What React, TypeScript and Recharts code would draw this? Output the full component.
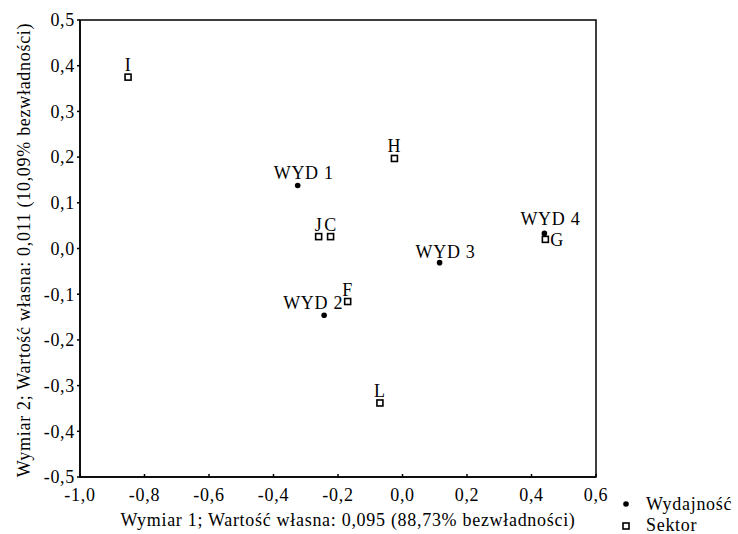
import React from 'react';
import { ScatterChart, Scatter, XAxis, YAxis, ReferenceArea, Legend } from 'recharts';

const wydNames = ['WYD 1', 'WYD 2', 'WYD 3', 'WYD 4'];
const wydDim1 = [-0.325, -0.243, 0.115, 0.44];
const wydDim2 = [0.138, -0.146, -0.031, 0.033];

const sektorNames = ['C', 'F', 'G', 'H', 'I', 'J', 'L'];
const sektorDim1 = [-0.223, -0.17, 0.443, -0.025, -0.851, -0.26, -0.07];
const sektorDim2 = [0.026, -0.116, 0.02, 0.197, 0.375, 0.026, -0.338];

const xTicks = [-1.0, -0.8, -0.6, -0.4, -0.2, 0.0, 0.2, 0.4, 0.6];
const yTicks = [-0.5, -0.4, -0.3, -0.2, -0.1, 0.0, 0.1, 0.2, 0.3, 0.4, 0.5];

const xTitle = 'Wymiar 1; Wartość własna: 0,095 (88,73% bezwładności)';
const yTitle = 'Wymiar 2; Wartość własna: 0,011 (10,09% bezwładności)';
const seriesNames = ['Wydajność', 'Sektor'];

const wydData = wydNames.map((name, i) => ({ name, x: wydDim1[i], y: wydDim2[i] }));
const sektorData = sektorNames.map((name, i) => ({ name, x: sektorDim1[i], y: sektorDim2[i] }));

const FONT = 'Liberation Serif, Times New Roman, serif';
const FS = 18;
const LS = 0.7;

// label placement (style only)
const labelPlacement: Record<string, { dx: number; dy: number; anchor: 'start' | 'middle' | 'end' }> = {
  'WYD 1': { dx: 6, dy: -6, anchor: 'middle' },
  'WYD 2': { dx: -11, dy: -6, anchor: 'middle' },
  'WYD 3': { dx: 6, dy: -5, anchor: 'middle' },
  'WYD 4': { dx: 6, dy: -8, anchor: 'middle' },
  G: { dx: 5, dy: 7, anchor: 'start' },
};
const defaultPlacement = { dx: 0, dy: -6, anchor: 'middle' as const };

const fmt = (v: number) => (Math.abs(v) < 1e-9 ? 0 : v).toFixed(1).replace('.', ',');

const Label = ({ cx, cy, name }: { cx: number; cy: number; name: string }) => {
  const p = labelPlacement[name] || defaultPlacement;
  return (
    <text
      x={cx + p.dx}
      y={cy + p.dy}
      textAnchor={p.anchor}
      fontFamily={FONT}
      fontSize={FS}
      letterSpacing={LS}
      fill="#000"
    >
      {name}
    </text>
  );
};

const DotShape = (props: any) => {
  const { cx, cy, payload } = props;
  return (
    <g>
      <circle cx={cx} cy={cy} r={2.8} fill="#000" />
      <Label cx={cx} cy={cy} name={payload.name} />
    </g>
  );
};

const SquareShape = (props: any) => {
  const { cx, cy, payload } = props;
  return (
    <g>
      <rect x={cx - 3} y={cy - 3} width={6} height={6} fill="#fff" stroke="#000" strokeWidth={1.6} />
      <Label cx={cx} cy={cy} name={payload.name} />
    </g>
  );
};

const LegendContent = () => (
  <div style={{ fontFamily: FONT, fontSize: FS, letterSpacing: LS, color: '#000' }}>
    {seriesNames.map((n, i) => (
      <div key={n} style={{ display: 'flex', alignItems: 'center', height: 21, lineHeight: '21px' }}>
        <svg width={16} height={21} style={{ display: 'block' }}>
          {i === 0 ? (
            <circle cx={8} cy={10} r={2.8} fill="#000" />
          ) : (
            <rect x={5} y={8} width={6} height={6} fill="#fff" stroke="#000" strokeWidth={1.6} />
          )}
        </svg>
        <span style={{ marginLeft: 12 }}>{n}</span>
      </div>
    ))}
  </div>
);

const XTitle = () => (
  <text x={348} y={526} textAnchor="middle" fontFamily={FONT} fontSize={FS} letterSpacing={LS} fill="#000">
    {xTitle}
  </text>
);

const YTitle = () => (
  <text
    x={30}
    y={250}
    transform="rotate(-90, 30, 250)"
    textAnchor="middle"
    fontFamily={FONT}
    fontSize={FS}
    letterSpacing={LS}
    fill="#000"
  >
    {yTitle}
  </text>
);

export default function App() {
  return (
    <div style={{ position: 'absolute', left: 0, top: 0, background: '#fff' }}>
      <ScatterChart width={738} height={534} margin={{ top: 20, right: 142, bottom: 0, left: 0 }}>
        <XAxis
          type="number"
          dataKey="x"
          domain={[-1, 0.6]}
          ticks={xTicks}
          allowDataOverflow
          height={57}
          tickFormatter={fmt}
          stroke="#000"
          strokeWidth={1.5}
          tickSize={-3}
          tickMargin={14}
          tick={{ fill: '#000', fontFamily: FONT, fontSize: FS, letterSpacing: LS }}
          interval={0}
          label={<XTitle />}
        />
        <YAxis
          type="number"
          dataKey="y"
          domain={[-0.5, 0.5]}
          ticks={yTicks}
          allowDataOverflow
          width={80}
          tickFormatter={fmt}
          stroke="#000"
          strokeWidth={1.5}
          tickSize={3}
          tickMargin={2}
          tick={{ fill: '#000', fontFamily: FONT, fontSize: FS, letterSpacing: LS }}
          interval={0}
          label={<YTitle />}
        />
        <ReferenceArea x1={-1} x2={0.6} y1={-0.5} y2={0.5} fill="none" stroke="#000" strokeWidth={1.5} fillOpacity={0} />
        <Scatter name={seriesNames[0]} data={wydData} shape={DotShape} isAnimationActive={false} />
        <Scatter name={seriesNames[1]} data={sektorData} shape={SquareShape} isAnimationActive={false} />
        <Legend
          layout="vertical"
          align="center"
          verticalAlign="middle"
          wrapperStyle={{ position: 'absolute', left: 618, top: 494, width: 120, height: 42 }}
          content={<LegendContent />}
        />
      </ScatterChart>
    </div>
  );
}
